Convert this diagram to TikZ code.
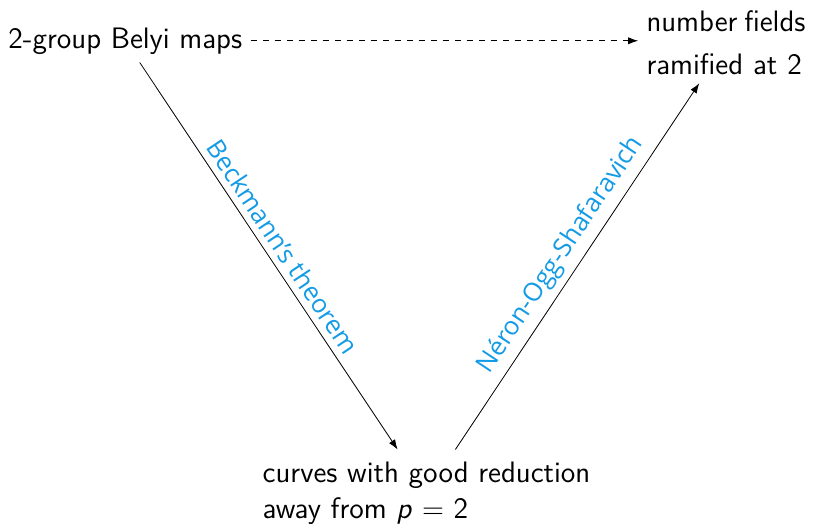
\documentclass[tikz,border=0pt]{standalone}
\usepackage{amsmath,amssymb}
\usepackage{fontspec}
\newfontfamily\labelfont{Open Sans}
\usetikzlibrary{arrows.meta}
\renewcommand{\familydefault}{\sfdefault}
\definecolor{labelblue}{RGB}{20,155,230}

\begin{document}
\begin{tikzpicture}[
  x=0.5pt,y=-0.5pt,
  objnode/.style={
    font=\sffamily\fontsize{14.8}{17.8}\selectfont,
    inner sep=#1,
    },
  maparrow/.style={-{Latex[length=5pt,width=3.6pt]}},
  maplabel/.style={
    font=\labelfont\fontsize{12.8}{15}\selectfont,
    text=labelblue,
    midway,sloped,above,
    },
  ]
  \useasboundingbox (0,0) rectangle (818,527);
  \node[objnode=4pt,anchor=base west] (belyi)
    at (0,48) {2-group Belyi maps};
  \node[objnode=4pt,text width=79.5pt,align=left] (numfields)
    at (726,43) {number\hfill fields\\[3.5pt]ramified at 2};
  \node[objnode=6pt,align=left] (curves)
    at (426.5,493) {curves with good reduction\\away from \textit{p} $=$ 2};

  \draw[maparrow,dashed]
    (belyi.east) -- (belyi.east -| numfields.west);
  \draw[maparrow]
    (belyi) -- (curves)
    node[maplabel] {Beckmann’s theorem};
  \draw[maparrow]
    (curves) -- (numfields)
    node[maplabel] {Néron-Ogg-Shafaravich};
\end{tikzpicture}
\end{document}
